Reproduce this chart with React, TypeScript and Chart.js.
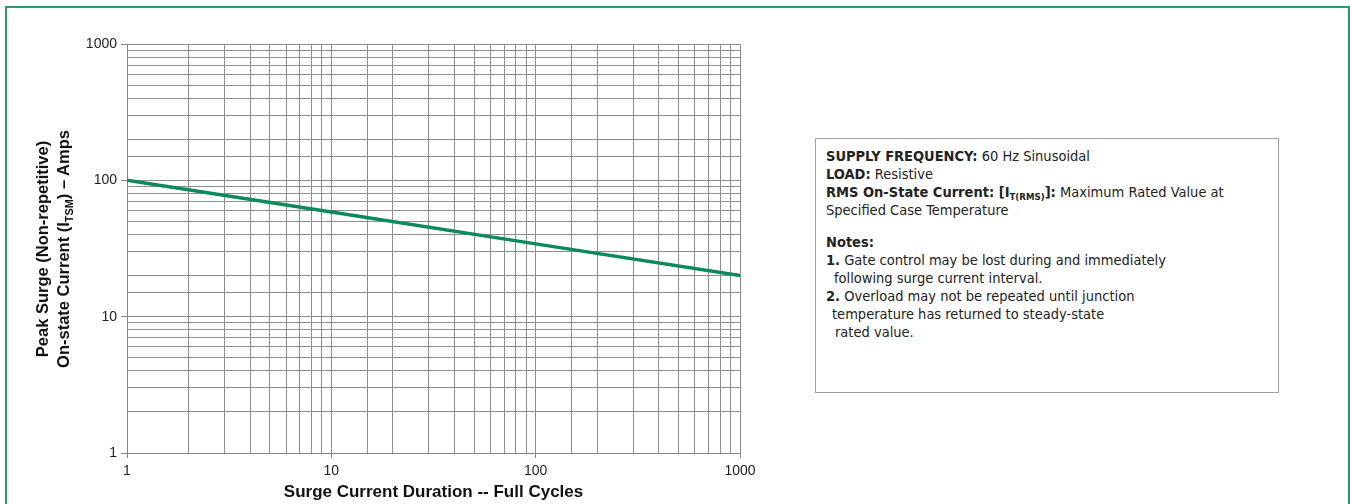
import React, { useEffect, useRef } from 'react';
import { Chart, registerables } from 'chart.js';

Chart.register(...registerables);

// ---- Data ----
const cycles = [1, 10, 100, 1000];
const surgeAmps = [100, 58.5, 34.2, 20];
const xMajorTicks = [1, 10, 100, 1000];
const yMajorTicks = [1, 10, 100, 1000];
const xTitle = 'Surge Current Duration -- Full Cycles';

const isMajor = (v: number, list: number[]) => list.some((m) => Math.abs(m - v) < 1e-6 * m);

const GRID = '#8e8e8e';
const AXIS = '#858585';
const LINE = '#0c8a5b';
const NARROW = '"Liberation Sans Narrow", "Arial Narrow", "DejaVu Sans Condensed", sans-serif';
const SANS = '"Liberation Sans", Arial, Helvetica, sans-serif';

function SurgeChart() {
  const ref = useRef<HTMLCanvasElement | null>(null);
  useEffect(() => {
    if (!ref.current) return;
    const chart = new Chart(ref.current, {
      type: 'line',
      data: {
        datasets: [
          {
            data: cycles.map((c, i) => ({ x: c, y: surgeAmps[i] })),
            borderColor: LINE,
            borderWidth: 3.5,
            pointRadius: 0,
            tension: 0,
            fill: false,
          },
        ],
      },
      options: {
        animation: false,
        responsive: false,
        devicePixelRatio: 1,
        layout: { padding: { top: 44, right: 40, bottom: 0, left: 0 } },
        plugins: { legend: { display: false }, tooltip: { enabled: false } },
        scales: {
          x: {
            type: 'logarithmic',
            min: 1,
            max: 1000,
            afterFit: (s: any) => {
              s.height = 51;
            },
            ticks: {
              autoSkip: false,
              maxRotation: 0,
              padding: 5,
              color: '#222',
              font: { family: SANS, size: 14 },
              callback: (v: any) => (isMajor(Number(v), xMajorTicks) ? String(v) : ''),
            },
            grid: {
              color: GRID,
              lineWidth: 1,
              tickLength: 5,
              tickColor: (ctx: any) => (ctx.tick && isMajor(ctx.tick.value, xMajorTicks) ? AXIS : 'rgba(0,0,0,0)'),
            },
            border: { color: AXIS, width: 1 },
            title: {
              display: true,
              text: xTitle,
              color: '#111',
              font: { family: SANS, size: 17, weight: 'bold' },
              padding: { top: 2, bottom: 1 },
            },
          },
          y: {
            type: 'logarithmic',
            min: 1,
            max: 1000,
            afterFit: (s: any) => {
              s.width = 127;
            },
            ticks: {
              autoSkip: false,
              padding: 4,
              color: '#222',
              font: { family: SANS, size: 14 },
              callback: (v: any) => (isMajor(Number(v), yMajorTicks) ? String(v) : ''),
            },
            grid: {
              color: GRID,
              lineWidth: 1,
              tickLength: 6,
              tickColor: (ctx: any) => (ctx.tick && isMajor(ctx.tick.value, yMajorTicks) ? AXIS : 'rgba(0,0,0,0)'),
            },
            border: { color: AXIS, width: 1 },
          },
        },
      },
    } as any);
    return () => chart.destroy();
  }, []);
  return <canvas ref={ref} width={780} height={504} style={{ position: 'absolute', left: 0, top: 0 }} />;
}

const sub = (t: string) => (
  <span style={{ fontSize: '0.66em', position: 'relative', top: '0.35em' }}>{t}</span>
);

export default function App() {
  const lineStyle: React.CSSProperties = { height: 18, lineHeight: '18px', whiteSpace: 'nowrap' };
  return (
    <div
      style={{
        position: 'absolute',
        left: 0,
        top: 0,
        width: 1350,
        height: 504,
        overflow: 'hidden',
        background: '#fff',
      }}
    >
      <div
        style={{
          position: 'absolute',
          left: 5,
          top: 6,
          width: 1341,
          height: 600,
          border: '2px solid #2a9a6a',
        }}
      />
      <SurgeChart />
      {/* y-axis title */}
      <div
        style={{
          position: 'absolute',
          left: 53,
          top: 249,
          width: 0,
          height: 0,
        }}
      >
        <div
          style={{
            position: 'absolute',
            left: -200,
            top: -21,
            width: 400,
            textAlign: 'center',
            transform: 'rotate(-90deg)',
            transformOrigin: '200px 21px',
            fontFamily: SANS,
            fontWeight: 'bold',
            fontSize: 16.5,
            lineHeight: '21px',
            color: '#111',
          }}
        >
          <div>Peak Surge (Non-repetitive)</div>
          <div>
            On-state Current (I{sub('TSM')}) – Amps
          </div>
        </div>
      </div>
      {/* notes box */}
      <div
        style={{
          position: 'absolute',
          left: 815,
          top: 138,
          width: 464,
          height: 255,
          boxSizing: 'border-box',
          border: '1.5px solid #a0a0a0',
          padding: '8px 0 0 10px',
          fontFamily: NARROW,
          fontSize: 14.5,
          color: '#222',
        }}
      >
        <div style={lineStyle}>
          <b>SUPPLY FREQUENCY:</b> 60 Hz Sinusoidal
        </div>
        <div style={lineStyle}>
          <b>LOAD:</b> Resistive
        </div>
        <div style={lineStyle}>
          <b>
            RMS On-State Current: [I{sub('T(RMS)')}]:
          </b>{' '}
          Maximum Rated Value at
        </div>
        <div style={lineStyle}>Specified Case Temperature</div>
        <div style={{ ...lineStyle, height: 14 }} />
        <div style={lineStyle}>
          <b>Notes:</b>
        </div>
        <div style={lineStyle}>
          <b>1.</b> Gate control may be lost during and immediately
        </div>
        <div style={{ ...lineStyle, paddingLeft: 8 }}>following surge current interval.</div>
        <div style={lineStyle}>
          <b>2.</b> Overload may not be repeated until junction
        </div>
        <div style={{ ...lineStyle, paddingLeft: 6 }}>temperature has returned to steady-state</div>
        <div style={{ ...lineStyle, paddingLeft: 9 }}>rated value.</div>
      </div>
    </div>
  );
}
